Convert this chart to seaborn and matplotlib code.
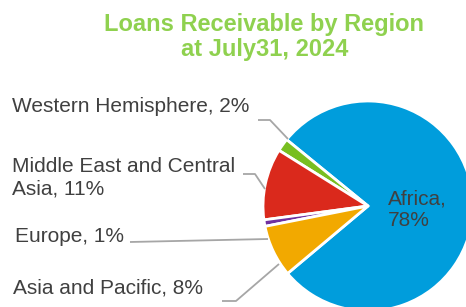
import matplotlib
matplotlib.use("Agg")
import matplotlib.pyplot as plt
import seaborn as sns

# Data
regions = ["Africa", "Western Hemisphere", "Middle East and Central\nAsia", "Europe", "Asia and Pacific"]
shares = [78, 2, 11, 1, 8]
colors = ["#009DDC", "#78BE20", "#DA291C", "#7030A0", "#F2A900"]

sns.set_theme(style="white")
plt.rcParams["font.family"] = ["Liberation Sans", "DejaVu Sans"]

W, H = 466, 307
fig = plt.figure(figsize=(W / 100, H / 100), dpi=100)
ax = fig.add_axes([0, 0, 1, 1])

# pixel layout of the pie in the reference
cx, cy, r = 368, 206, 105


def px(x, y):
    return (x - cx) / r, (cy - y) / r


ax.pie(shares, colors=colors, startangle=-140, counterclock=True,
       radius=1, center=(0, 0),
       wedgeprops=dict(edgecolor="white", linewidth=2))

ax.set_xlim(-cx / r, (W - cx) / r)
ax.set_ylim(-(H - cy) / r, cy / r)
ax.set_aspect("auto")
ax.axis("off")

txt = "#404040"
line = "#A6A6A6"
fs = 15

labels = [f"{n}, {v}%" for n, v in zip(regions, shares)]

# Africa label inside the slice
ax.text(*px(388, 210), labels[0].replace(", ", ",\n"), color=txt, fontsize=fs,
        ha="left", va="center", linespacing=1.2)

# outside labels with leader lines (text anchor, elbow points, slice point)
outside = [
    (1, (12, 107), [(258, 120), (270, 120), (288, 139)]),
    (2, (12, 178), [(243, 174), (255, 174), (265, 189)]),
    (3, (15, 237), [(130, 242), (268, 239)]),
    (4, (13, 288), [(222, 301), (236, 301), (279, 264)]),
]
for i, pos, pts in outside:
    ax.text(*px(*pos), labels[i], color=txt, fontsize=fs, ha="left", va="center",
            linespacing=1.2)
    xs, ys = zip(*[px(*p) for p in pts])
    ax.plot(xs, ys, color=line, lw=1.3, solid_capstyle="butt")

fig.text(264.5 / W, 1 - 37 / H, "Loans Receivable by Region\nat July31, 2024",
         ha="center", va="center", fontsize=17, fontweight="bold",
         color="#8FD14F", linespacing=1.15)

fig.savefig("out.png", dpi=100)
